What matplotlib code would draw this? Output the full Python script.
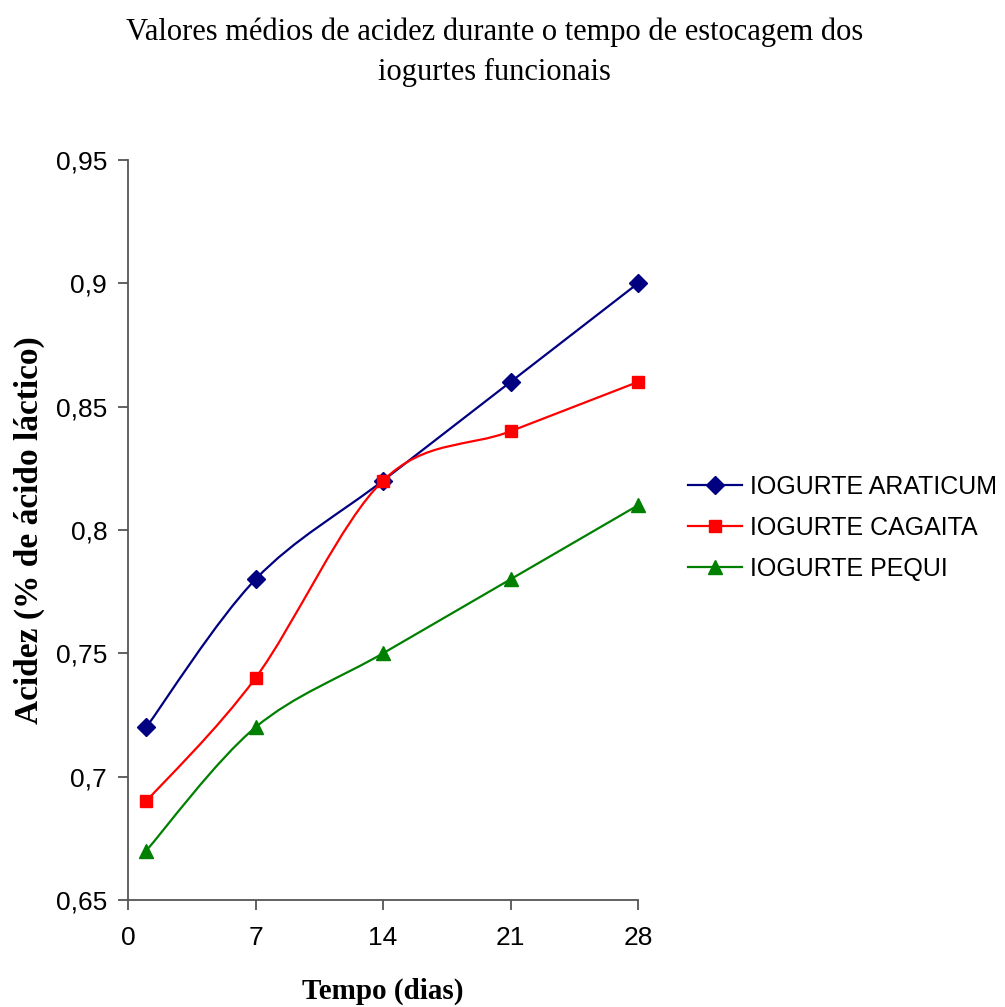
#!/usr/bin/env python3
# Acidez media dos iogurtes funcionais ao longo do tempo de estocagem
# (linhas suavizadas no estilo do Excel, com marcadores nos pontos medidos)

import matplotlib
matplotlib.use('Agg')
import matplotlib.pyplot as plt
from matplotlib.path import Path
from matplotlib.patches import PathPatch
from matplotlib.lines import Line2D

# ── DADOS ────────────────────────────────────────────────
dias      = [1, 7, 14, 21, 28]
araticum  = [0.72, 0.78, 0.82, 0.86, 0.90]
cagaita   = [0.69, 0.74, 0.82, 0.84, 0.86]
pequi     = [0.67, 0.72, 0.75, 0.78, 0.81]

nomes     = ['IOGURTE ARATICUM', 'IOGURTE CAGAITA', 'IOGURTE PEQUI']
cores     = ['#000080', '#FF0000', '#008000']
marcas    = ['D', 's', '^']
tamanhos  = [9.5, 8.6, 10.5]

x_ticks   = [0, 7, 14, 21, 28]
y_ticks   = [0.65, 0.70, 0.75, 0.80, 0.85, 0.90, 0.95]
y_labels  = ['0,65', '0,7', '0,75', '0,8', '0,85', '0,9', '0,95']
# ─────────────────────────────────────────────────────────


def smooth_path(xs, ys):
    # Bezier cubico tipo Excel: controles a 1/6 da diferenca dos vizinhos
    pts = list(zip(xs, ys))
    n = len(pts)
    verts = [pts[0]]
    codes = [Path.MOVETO]
    for i in range(n - 1):
        p0 = pts[i - 1] if i > 0 else pts[i]
        p1 = pts[i]
        p2 = pts[i + 1]
        p3 = pts[i + 2] if i + 2 < n else pts[i + 1]
        c1 = (p1[0] + (p2[0] - p0[0]) / 6, p1[1] + (p2[1] - p0[1]) / 6)
        c2 = (p2[0] - (p3[0] - p1[0]) / 6, p2[1] - (p3[1] - p1[1]) / 6)
        verts += [c1, c2, p2]
        codes += [Path.CURVE4] * 3
    return Path(verts, codes)


fig = plt.figure(figsize=(10.05, 10.07), dpi=100)
ax = fig.add_axes([0.1274, 0.1063, 0.5075, 0.7349])

handles = []
for serie, nome, cor, mk, ms in zip([araticum, cagaita, pequi], nomes, cores, marcas, tamanhos):
    patch = PathPatch(smooth_path(dias, serie), facecolor='none', edgecolor=cor,
                      linewidth=1.6, zorder=2)
    ax.add_patch(patch)
    ax.plot(dias, serie, linestyle='none', marker=mk, markersize=ms,
            color=cor, markeredgecolor=cor, clip_on=False, zorder=3)
    handles.append(Line2D([], [], color=cor, linewidth=1.6, marker=mk,
                          markersize=ms, markeredgecolor=cor))

ax.set_xlim(0, 28)
ax.set_ylim(0.65, 0.95)
ax.set_xticks(x_ticks)
ax.set_xticklabels([str(t) for t in x_ticks])
ax.set_yticks(y_ticks)
ax.set_yticklabels(y_labels)

for side in ['top', 'right']:
    ax.spines[side].set_visible(False)
for side in ['left', 'bottom']:
    ax.spines[side].set_color('#555555')
    ax.spines[side].set_linewidth(1.3)

ax.tick_params(axis='both', direction='out', length=7, width=1.3, color='#555555',
               labelsize=19)
ax.tick_params(axis='x', pad=12)
ax.tick_params(axis='y', pad=8)
for lbl in ax.get_xticklabels() + ax.get_yticklabels():
    lbl.set_fontfamily('Liberation Sans')

ax.set_xlabel('Tempo (dias)', fontsize=21, fontweight='bold',
              fontfamily='Liberation Serif', labelpad=20)
ax.set_ylabel('Acidez (% de ácido láctico)', fontsize=24, fontweight='bold',
              fontfamily='Liberation Serif', labelpad=8)

fig.text(0.492, 0.983, 'Valores médios de acidez durante o tempo de estocagem dos\niogurtes funcionais',
         ha='center', va='top', fontsize=22, fontfamily='Liberation Serif', linespacing=1.5)

fig.legend(handles, nomes, loc='center left', bbox_to_anchor=(0.6846, 0.4757),
           frameon=False, borderpad=0, borderaxespad=0,
           handlelength=2.16, handletextpad=0.32, labelspacing=0.68,
           prop={'family': 'Liberation Sans', 'size': 18})

fig.savefig('out.png', dpi=100)
plt.close(fig)
